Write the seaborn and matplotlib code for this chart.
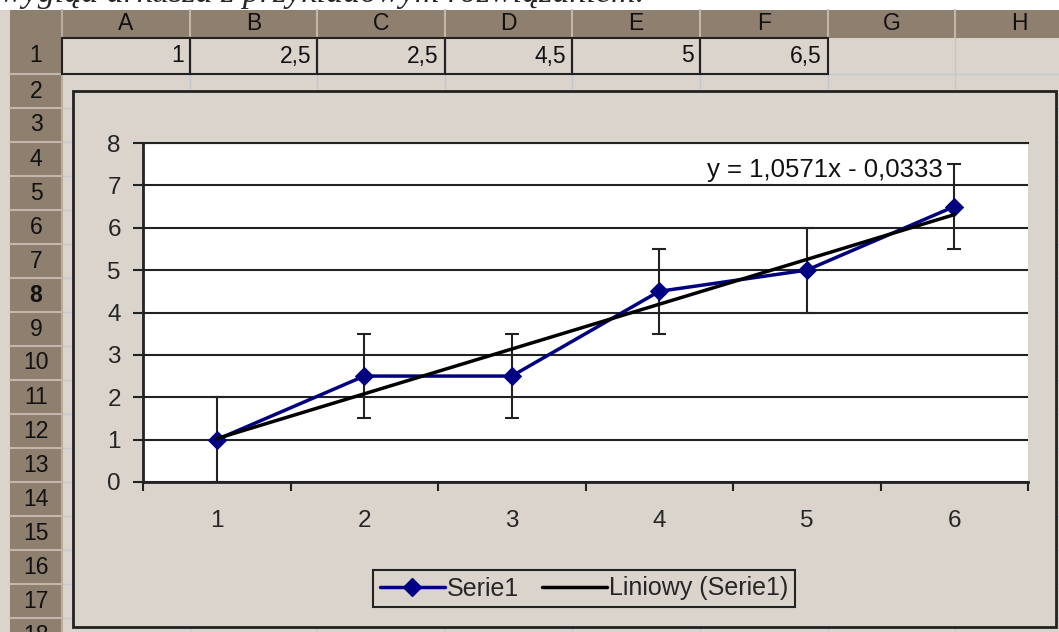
import numpy as np
import matplotlib
matplotlib.use("Agg")
import matplotlib.pyplot as plt
import seaborn as sns
from matplotlib.patches import Rectangle
from matplotlib.lines import Line2D

# --- data (row 1 of the sheet) ---
categories = ["1", "2", "3", "4", "5", "6"]
serie1 = [1, 2.5, 2.5, 4.5, 5, 6.5]
err = [1, 1, 1, 1, 1, 1]
col_names = ["A", "B", "C", "D", "E", "F", "G", "H"]
row_names = [str(i) for i in range(1, 19)]

W, H = 1059, 632
HEADER = "#8e7f6f"
CELL = "#dbd4cd"
SHEET_GRID = "#c4c8cc"

sns.set_theme(style="white")
plt.rcParams["font.family"] = ["Liberation Sans", "DejaVu Sans"]

fig = plt.figure(figsize=(W / 100, H / 100), dpi=100)
fig.patch.set_facecolor(CELL)


def fx(x):
    return x / W


def fy(y):
    return 1 - y / H


def rect(x0, y0, x1, y1, **kw):
    r = Rectangle((fx(x0), fy(y1)), fx(x1) - fx(x0), fy(y0) - fy(y1),
                  transform=fig.transFigure, **kw)
    fig.add_artist(r)


def line(x0, y0, x1, y1, **kw):
    fig.add_artist(Line2D([fx(x0), fx(x1)], [fy(y0), fy(y1)],
                          transform=fig.transFigure, **kw))


# white band with the cut-off caption on top
rect(0, 0, W, 10, facecolor="white", edgecolor="none", zorder=0.3)
fig.text(fx(0), fy(2), "wygląd arkusza z przykładowym rozwiązaniem.",
         family="Liberation Serif", style="italic", fontsize=24.5,
         va="baseline", ha="left", zorder=0.4)

# sheet grid
col_edges = [62 + 127.6 * k for k in range(len(col_names) + 1)]
row_edges = [38, 74] + [74 + 34 * k for k in range(1, len(row_names))]
for x in col_edges[1:]:
    line(x, 38, x, H, color=SHEET_GRID, lw=1, zorder=0.5)
for y in row_edges[1:]:
    line(62, y, W, y, color=SHEET_GRID, lw=1, zorder=0.5)

# headers
rect(10, 10, W, 38, facecolor=HEADER, edgecolor="none", zorder=0.6)
rect(10, 38, 62, H, facecolor=HEADER, edgecolor="none", zorder=0.6)
line(62, 10, 62, H, color="#b9ad9f", lw=1.5, zorder=0.7)
for i, name in enumerate(col_names):
    x0, x1 = col_edges[i], col_edges[i + 1]
    line(x1, 10, x1, 38, color="#c2b7aa", lw=1.5, zorder=0.7)
    fig.text(fx((x0 + x1) / 2), fy(24), name, ha="center", va="center",
             fontsize=16.5, color="#111111")
for i, name in enumerate(row_names):
    y0, y1 = row_edges[i], (row_edges[i + 1] if i + 1 < len(row_edges) else row_edges[i] + 34)
    line(10, y1, 62, y1, color="#c2b7aa", lw=1.5, zorder=0.7)
    fig.text(fx(36), fy((y0 + y1) / 2), name, ha="center", va="center",
             fontsize=16.5, color="#111111",
             fontweight="bold" if name == "8" else "normal")

# row 1 values with cell borders
for i, v in enumerate(serie1):
    x0, x1 = col_edges[i], col_edges[i + 1]
    rect(x0, 38, x1, 74, facecolor="none", edgecolor="#222222", lw=1.5, zorder=0.8)
    fig.text(fx(x1 - 6), fy(56), f"{v:g}".replace(".", ","), ha="right",
             va="center", fontsize=16.5, color="#111111")

# chart area
rect(73, 91, 1056, 627, facecolor=CELL, edgecolor="#222222", lw=2, zorder=1)

# plot area
ax = fig.add_axes([fx(143), fy(482), fx(1028) - fx(143), fy(143) - fy(482)])
ax.set_facecolor("white")
ax.set_zorder(2)

pos = np.arange(len(categories)) + 0.5
xnum = np.arange(1, len(categories) + 1)
slope, intercept = np.polyfit(xnum, serie1, 1)
trend = slope * xnum + intercept

ax.errorbar(pos, serie1, yerr=err, fmt="none", ecolor="#222222",
            elinewidth=1.5, capsize=5, capthick=1.5, zorder=2)
sns.lineplot(x=pos, y=serie1, ax=ax, color="#000080", marker="D",
             markersize=9, markeredgecolor="#000080", lw=2.5, zorder=3)
sns.lineplot(x=pos, y=trend, ax=ax, color="black", lw=2.5, zorder=4)

eq = f"y = {slope:.4f}x - {abs(intercept):.4f}".replace(".", ",")
ax.text(5.42, 7.36, eq, ha="right", va="center", fontsize=18.5, color="#111111")

ax.set_xlim(0, len(categories))
ax.set_ylim(0, 8)
ax.set_yticks(range(0, 9))
ax.set_xticks(range(0, len(categories) + 1))
ax.set_xticklabels([])
ax.set_xticks(pos, minor=True)
ax.set_xticklabels(categories, minor=True)
ax.tick_params(axis="y", direction="out", length=7, width=1.5, color="#222222",
               pad=9, labelsize=17.5, left=True)
ax.tick_params(axis="x", which="major", direction="out", length=6.5, width=1.5,
               color="#222222", bottom=True)
ax.tick_params(axis="x", which="minor", length=0, pad=20, labelsize=17.5)
ax.yaxis.grid(True, color="#222222", lw=1.5)
ax.xaxis.grid(False)
ax.set_axisbelow(True)
for s in ["left", "bottom"]:
    ax.spines[s].set_color("#222222")
    ax.spines[s].set_linewidth(2)
ax.spines["top"].set_color("#222222")
ax.spines["top"].set_linewidth(1.5)
ax.spines["right"].set_visible(False)
ax.set_xlabel("")
ax.set_ylabel("")

handles = [
    Line2D([], [], color="#000080", lw=2.5, marker="D", markersize=9),
    Line2D([], [], color="black", lw=2.5),
]
leg = ax.legend(handles, ["Serie1", "Liniowy (Serie1)"], ncol=2,
                loc="center", bbox_to_anchor=(fx(584), fy(588.5)),
                bbox_transform=fig.transFigure, fontsize=18,
                frameon=True, fancybox=False, framealpha=1,
                facecolor=CELL, edgecolor="#222222", handlelength=2.6,
                handletextpad=0.1, columnspacing=0.9, borderpad=0.25,
                borderaxespad=0)
leg.get_frame().set_linewidth(1.5)

fig.savefig("out.png", dpi=100, facecolor=fig.get_facecolor())
